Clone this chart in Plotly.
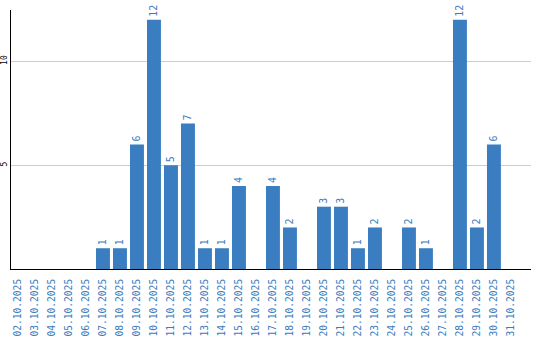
import plotly.graph_objects as go

dates = [f"{d:02d}.10.2025" for d in range(2, 32)]
values = [None, None, None, None, None, 1, 1, 6, 12, 5, 7, 1, 1, 4, None,
          4, 2, None, 3, 3, 1, 2, None, 2, 1, None, 12, 2, 6, None]
y_ticks = [5, 10]

BLUE = "#3a7dc0"
MONO = "DejaVu Sans Mono"

fig = go.Figure(go.Bar(
    x=dates, y=values,
    marker=dict(color=BLUE, line=dict(width=0)),
    text=[("" if v is None else str(v)) for v in values],
    textposition="outside", textangle=-90,
    textfont=dict(family=MONO, size=10, color=BLUE),
    cliponaxis=False,
))

fig.update_layout(
    width=540, height=340,
    margin=dict(l=11, r=9, t=10, b=71),
    paper_bgcolor="white", plot_bgcolor="white",
    bargap=0.18, showlegend=False,
    uniformtext=dict(mode=False),
)
fig.update_xaxes(
    type="category", range=[-0.41, 30.18],
    tickangle=-90, tickfont=dict(family=MONO, size=9.6, color=BLUE),
    showline=True, linecolor="black", linewidth=1,
    showgrid=False, ticks="", automargin=False, ticklabelstandoff=5,
)
fig.update_yaxes(
    range=[0, 12.47], tickvals=y_ticks, ticktext=[str(t) for t in y_ticks],
    tickangle=-90, tickfont=dict(family=MONO, size=8, color="black"),
    showline=True, linecolor="black", linewidth=1,
    showgrid=True, gridcolor="#cccccc", gridwidth=1,
    zeroline=False, ticks="", automargin=False,
)

fig.write_html("out.html")
